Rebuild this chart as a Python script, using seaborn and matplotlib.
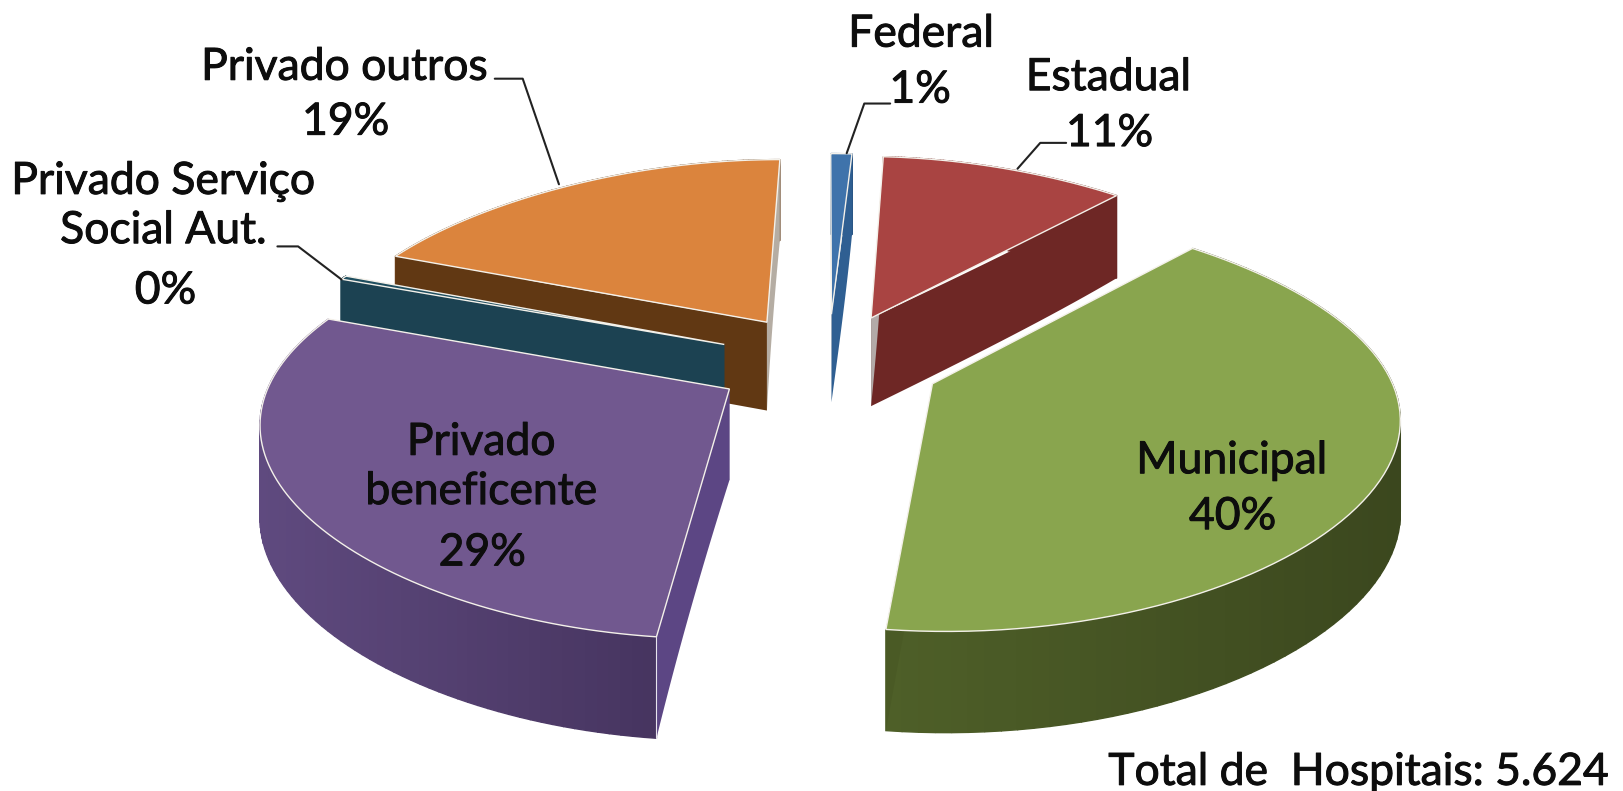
#!/usr/bin/env python3
# -*- coding: utf-8 -*-

import numpy as np
import matplotlib
matplotlib.use('Agg')
import matplotlib.pyplot as plt
import matplotlib.patheffects as pe
from matplotlib.colors import to_rgb
import seaborn as sns

categories = ['Federal', 'Estadual', 'Municipal', 'Privado\nbeneficente',
              'Privado Serviço\nSocial Aut.', 'Privado outros']
values = [1, 11, 40, 29, 0.3, 19]
percents = ['1%', '11%', '40%', '29%', '0%', '19%']

top_colors = ['#3f73ab', '#a94442', '#89a54e', '#71588f', '#1f4e5f', '#db843d']
# cut faces: one colour for each side of a slice
cut1_colors = ['#2f5f92', '#6e2725', '#4a5a25', '#5c4684', '#1c4252', '#b5ada3']
cut2_colors = ['#b3b0ad', '#b3aaa8', '#4a5a25', '#5c4684', '#1c4252', '#613813']
wall_left = ['#2f5f92', '#7a2c2a', '#4e5f28', '#5f4a7f', '#1c4252', '#70421a']
wall_right = ['#2a5685', '#6a2523', '#3b471e', '#46345f', '#1c4252', '#5a3412']

# back slices first, front ones cover them
draw_order = [0, 1, 5, 4, 2, 3]

CX, CY, R, DEPTH = 800, 350, 437, 87
TILT = 0.443


def project(x, y, z):
    sx = 1 - 0.166 * y - 0.027 * y ** 2
    sy = 1 / (1 + 0.16 * y)
    return CX + R * x * sx, CY - R * TILT * y * sy + z * DEPTH * sy ** 0.6


sns.set_theme(style='white')
plt.rcParams['font.family'] = ['Lato', 'DejaVu Sans']

fig = plt.figure(figsize=(16.23, 7.91), dpi=100, facecolor='white')
ax = fig.add_axes([0, 0, 1, 1])

wedges, _ = ax.pie(values, explode=[0.25] * len(values), startangle=90,
                   counterclock=False, radius=1)
ax.set_aspect('auto')
ax.set_xlim(0, 1568)
ax.set_ylim(764, 0)
ax.axis('off')

for i in draw_order:
    w = wedges[i]
    w.set_visible(False)
    z = 2 + draw_order.index(i)
    cx, cy = w.center
    t = np.radians(np.linspace(w.theta1, w.theta2, 80))
    ax_x = cx + w.r * np.cos(t)
    ax_y = cy + w.r * np.sin(t)

    # outer wall, shaded in small strips
    x0, y0 = project(ax_x, ax_y, 0)
    x1, y1 = project(ax_x, ax_y, 1)
    c1, c2 = np.array(to_rgb(wall_left[i])), np.array(to_rgb(wall_right[i]))
    for j in range(len(t) - 1):
        f = (x0[j] - x0.min()) / max(x0.max() - x0.min(), 1)
        col = c1 + (c2 - c1) * f
        ax.fill([x0[j], x0[j + 1], x1[j + 1], x1[j]], [y0[j], y0[j + 1], y1[j + 1], y1[j]],
                color=col, lw=1.0, zorder=z)

    # the two cut faces
    for ex, ey, col in [(ax_x[0], ax_y[0], cut1_colors[i]), (ax_x[-1], ax_y[-1], cut2_colors[i])]:
        xs = np.linspace(cx, ex, 20)
        ys = np.linspace(cy, ey, 20)
        x0, y0 = project(xs, ys, 0)
        x1, y1 = project(xs, ys, 1)
        ax.fill(np.r_[x0, x1[::-1]], np.r_[y0, y1[::-1]], color=col, lw=0, zorder=z)
        if i == 3:
            ax.plot([x0[-1], x1[-1]], [y0[-1], y1[-1]], color='#e8e4ee', lw=0.8, zorder=z)

    # top surface
    tx = np.r_[cx, ax_x, cx]
    ty = np.r_[cy, ax_y, cy]
    px, py = project(tx, ty, 0)
    ax.fill(px, py, facecolor=top_colors[i], edgecolor='#f4f1ea', lw=1.0, zorder=z)

stroke = [pe.withStroke(linewidth=0.7, foreground='#0d0d0d')]
txt = dict(ha='center', va='center', color='#0d0d0d', fontsize=32,
           linespacing=1.25, zorder=30, path_effects=stroke)
ax.text(890, 33, categories[0], **txt)
ax.text(889, 87, percents[0], **txt)
ax.text(1071, 75, categories[1], **txt)
ax.text(1072, 129, percents[1], **txt)
ax.text(1190, 445, categories[2], **txt)
ax.text(1191, 499, percents[2], **txt)
ax.text(465, 451, categories[3], **txt)
ax.text(466, 534, percents[3], **txt)
ax.text(158, 199, categories[4], **txt)
ax.text(160, 281, percents[4], **txt)
ax.text(333, 65, categories[5], **txt)
ax.text(334, 118, percents[5], **txt)
ax.text(1313, 746, 'Total de  Hospitais: 5.624', ha='center', va='center', color='#0d0d0d',
        fontsize=32, zorder=30, path_effects=stroke)

# leader lines
ax.plot([478, 505, 540], [76, 76, 178], color='#222222', lw=1.5, zorder=30)
ax.plot([268, 288, 330], [238, 238, 270], color='#222222', lw=1.5, zorder=30)
ax.plot([860, 835, 818], [100, 100, 148], color='#222222', lw=1.5, zorder=30)
ax.plot([1030, 1005, 983], [138, 138, 163], color='#222222', lw=1.5, zorder=30)

fig.savefig('out.png', dpi=100)
